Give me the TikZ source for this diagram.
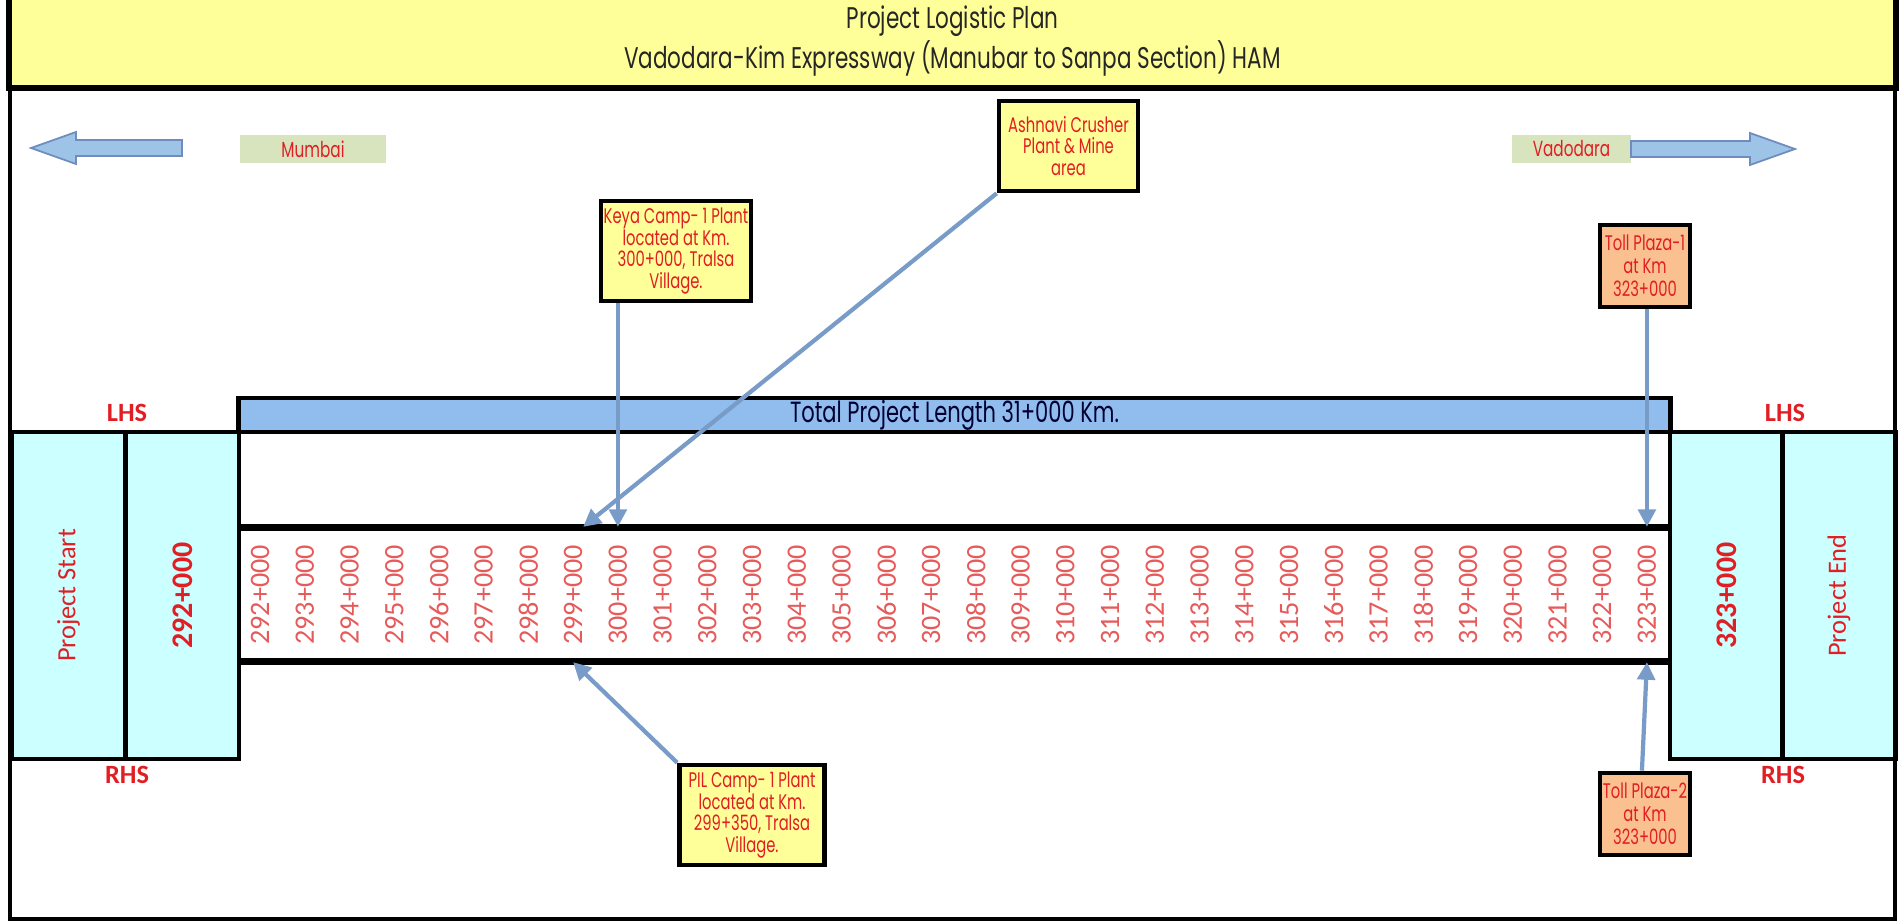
\documentclass[tikz,border=0pt]{standalone}
\usepackage{fontspec}
\setmainfont{Carlito}
\newfontfamily\gothic{Poppins}[FakeStretch=0.7]
\newfontfamily\titlefont{Poppins}[FakeStretch=0.72]
\usetikzlibrary{arrows.meta, positioning}

\definecolor{callfill}{RGB}{255,255,153}
\definecolor{tollfill}{RGB}{250,192,144}
\definecolor{sidefill}{RGB}{204,255,255}
\definecolor{barfill}{RGB}{145,188,238}
\definecolor{arrfill}{RGB}{157,195,230}
\definecolor{arrdraw}{RGB}{110,140,190}
\definecolor{labfill}{RGB}{215,228,189}
\definecolor{conncol}{RGB}{120,155,200}
\definecolor{txtred}{RGB}{225,30,35}
\definecolor{tickred}{RGB}{230,90,90}

\begin{document}
\begin{tikzpicture}[x=0.01cm, y=-0.01cm,
      frm/.style={draw=black, line width=0.9pt},
      band/.style={draw=black, line width=1.7pt, fill=callfill, text=black!85,
                   minimum width=18.85cm, minimum height=0.78cm, align=center,
                   font=\titlefont\fontsize{8.5}{8}\selectfont},
      callout/.style={draw=black, line width=1.3pt, fill=callfill, text=txtred,
                      inner sep=0pt, align=center, font=\gothic\fontsize{6}{6.1}\selectfont},
      tollbox/.style={callout, fill=tollfill, font=\gothic\fontsize{6}{6.5}\selectfont},
      side/.style={draw=black, line width=1.2pt, fill=sidefill, text=txtred, inner sep=0pt,
                   minimum width=1.13cm, minimum height=3.27cm},
      road/.style={draw=black, line width=1.2pt, inner sep=0pt, minimum width=14.31cm},
      tick/.style={text=tickred, font=\fontsize{8}{9}\selectfont, rotate=90, inner sep=1pt},
      hs/.style={text=txtred, font=\bfseries\fontsize{7.5}{9}\selectfont},
      dirlbl/.style={fill=labfill, text=txtred, inner sep=0pt, minimum height=0.27cm,
                     font=\gothic\fontsize{6.2}{7}\selectfont},
      blockarr/.style={fill=arrfill, draw=arrdraw, line width=0.5pt},
      conn/.style={draw=conncol, line width=1.2pt, -{Triangle[length=5pt, width=5pt]}}]

    \useasboundingbox (0,0) rectangle (1899,921);

    % ============================================
    % frame and title
    % ============================================
    \draw[frm] (10,2) rectangle (1895,919);
    \node[band] (title) at (952.5,41) {Project Logistic Plan\\Vadodara-Kim Expressway (Manubar to Sanpa Section) HAM};

    % ============================================
    % directions
    % ============================================
    \node[dirlbl, minimum width=1.46cm] (mumbai) at (313,149) {Mumbai};
    \node[dirlbl, minimum width=1.19cm] (vadodara) at (1571.5,149) {Vadodara};
    \draw[blockarr] (182,140) -- (76,140) -- (76,132) -- (31,148) -- (76,164) -- (76,156) -- (182,156) -- cycle;
    \draw[blockarr] (1631,141) -- (1750,141) -- (1750,133) -- (1795,149) -- (1750,165) -- (1750,157) -- (1631,157) -- cycle;

    % ============================================
    % road strip
    % ============================================
    \node[road, fill=barfill, minimum height=0.34cm, text=black!80!blue,
          font=\titlefont\fontsize{8.3}{9}\selectfont] (bar) at (954.5,415) {Total Project Length 31+000 Km.};
    \node[road, minimum height=0.97cm] (mid) at (954.5,480.5) {};
    \node[road, minimum height=1.31cm] (strip) at (954.5,594.5) {};
    \draw[line width=1.8pt] (strip.north west) -- (strip.north east);
    \draw[line width=1.8pt] (strip.south west) -- (strip.south east);

    \node[side] (pstart) at (68.5,595.5) {\rotatebox{90}{\fontsize{7.5}{9}\selectfont Project Start}};
    \node[side] (kmstart) at (182.5,595.5) {\rotatebox{90}{\bfseries\fontsize{8.5}{9}\selectfont 292+000}};
    \node[side] (kmend) at (1726.5,595.5) {\rotatebox{90}{\bfseries\fontsize{8.5}{9}\selectfont 323+000}};
    \node[side] (pend) at (1839,595.5) {\rotatebox{90}{\fontsize{7.5}{9}\selectfont Project End}};

    \node[hs] (lhsl) at (127,413) {LHS};
    \node[hs] (rhsl) at (127,775) {RHS};
    \node[hs] (lhsr) at (1785,413) {LHS};
    \node[hs] (rhsr) at (1783,775) {RHS};

    % chainage marks
    \foreach \k in {292,...,323} {
        \pgfmathsetmacro\xk{260+(\k-292)*44.74}
        \node[tick] (t\k) at (\xk,595) {\k+000};
    }

    % ============================================
    % callouts
    % ============================================
    \node[callout, minimum width=1.5cm, minimum height=1.0cm] (keya) at (676,251)
        {Keya Camp- 1 Plant\\located at Km.\\300+000, Tralsa\\Village.};
    \node[callout, minimum width=1.39cm, minimum height=0.9cm] (ashnavi) at (1068.5,146)
        {Ashnavi Crusher\\Plant \& Mine\\area};
    \node[callout, minimum width=1.45cm, minimum height=1.0cm] (pil) at (752,815)
        {PIL Camp- 1 Plant\\located at Km.\\299+350, Tralsa\\Village.};
    \node[tollbox, minimum width=0.9cm, minimum height=0.82cm] (toll1) at (1645,266)
        {Toll Plaza-1\\at Km\\323+000};
    \node[tollbox, minimum width=0.9cm, minimum height=0.82cm] (toll2) at (1645,814)
        {Toll Plaza-2\\at Km\\323+000};

    \draw[conn] (keya.south -| t300) -- (t300 |- strip.north);
    \draw[conn] (ashnavi.south west) -- ([xshift=0.1cm]t299 |- strip.north);
    \draw[conn] (pil.north west) -- (t299 |- strip.south);
    \draw[conn] (toll1.south -| t323) -- (t323 |- strip.north);
    \draw[conn] ([xshift=-0.05cm]toll2.north -| t323) -- (t323 |- strip.south);

\end{tikzpicture}
\end{document}
